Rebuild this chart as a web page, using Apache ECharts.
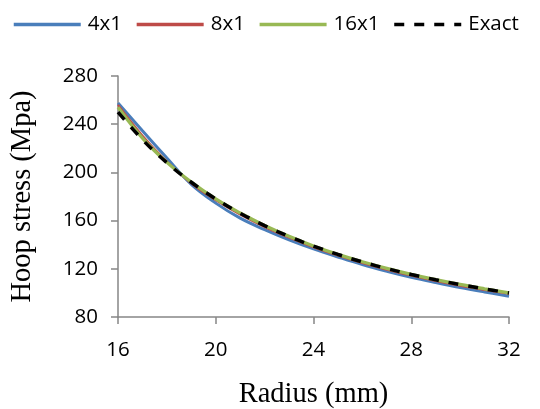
<!DOCTYPE html>
<html>
<head>
<meta charset="utf-8">
<script src="https://cdn.jsdelivr.net/npm/echarts@6/dist/echarts.min.js"></script>
<style>
  html, body { margin: 0; padding: 0; background: #fff; }
  #chart { width: 540px; height: 409px; }
</style>
</head>
<body>
<div id="chart"></div>
<script>
// Hoop stress along the radius of a thick-walled cylinder:
// finite-element meshes of increasing density against the exact solution.
const radius = [16, 17, 18, 19, 20, 21, 22, 23, 24, 25, 26, 27, 28, 29, 30, 31, 32];

const mesh4x1 = [257.5, 234.5, 212, 190, 174.5, 162, 152.5, 144, 136.5, 129.8, 123.5, 118, 113, 108.6, 104.5, 100.8, 97.3];
const mesh8x1 = [256, 230.5, 209, 191, 177, 165, 154.8, 146, 138, 131, 124.8, 119.3, 114.5, 110, 106, 102.5, 99.3];
const mesh16x1 = [254, 228.5, 208.3, 192, 178, 166.3, 156, 147, 139, 132, 125.8, 120.3, 115.4, 111, 107, 103.4, 100];
const exact = [250, 227.2, 208, 191.8, 178, 166.1, 155.8, 146.8, 138.9, 131.9, 125.7, 120.2, 115.3, 110.9, 106.9, 103.3, 100];

const seriesNames = ['4x1', '8x1', '16x1', 'Exact'];
const xTicks = { min: 16, max: 32, step: 4 };
const yTicks = { min: 80, max: 280, step: 40 };

const pairs = (ys) => radius.map((r, i) => [r, ys[i]]);

const axisGray = '#868686';
const tickFont = { fontFamily: '"Open Sans", sans-serif', fontSize: 20.5, color: '#000' };
const titleFont = { fontFamily: '"Liberation Serif", "Times New Roman", serif', fontSize: 28.5, color: '#000' };

const chart = echarts.init(document.getElementById('chart'), null, { renderer: 'canvas' });

chart.setOption({
  animation: false,
  backgroundColor: '#fff',
  legend: {
    left: 7,
    top: 9,
    itemWidth: 67,
    itemHeight: 14,
    itemGap: 13,
    itemStyle: { opacity: 0 },
    lineStyle: { width: 3.5 },
    textStyle: { fontFamily: '"Open Sans", sans-serif', fontSize: 20.5, color: '#000', padding: [0, 0, 0, 2] },
    data: seriesNames
  },
  grid: { left: 118, right: 31, top: 76, bottom: 92, containLabel: false, outerBoundsMode: 'none' },
  xAxis: {
    type: 'value',
    min: xTicks.min,
    max: xTicks.max,
    interval: xTicks.step,
    name: 'Radius (mm)',
    nameLocation: 'middle',
    nameGap: 63,
    nameTextStyle: titleFont,
    axisLine: { lineStyle: { color: axisGray, width: 1.5 } },
    axisTick: { show: true, length: 7, lineStyle: { color: axisGray, width: 1.5 } },
    axisLabel: Object.assign({ margin: 23 }, tickFont),
    splitLine: { show: false }
  },
  yAxis: {
    type: 'value',
    min: yTicks.min,
    max: yTicks.max,
    interval: yTicks.step,
    name: 'Hoop stress (Mpa)',
    nameLocation: 'middle',
    nameGap: 81,
    nameTextStyle: titleFont,
    axisLine: { show: true, lineStyle: { color: axisGray, width: 1.5 } },
    axisTick: { show: true, length: 7, lineStyle: { color: axisGray, width: 1.5 } },
    axisLabel: Object.assign({ margin: 20 }, tickFont),
    splitLine: { show: false }
  },
  series: [
    {
      name: seriesNames[0], type: 'line', smooth: 0.4, symbol: 'none',
      data: pairs(mesh4x1),
      lineStyle: { color: '#4A7EBB', width: 3 },
      itemStyle: { color: '#4A7EBB' }
    },
    {
      name: seriesNames[1], type: 'line', smooth: 0.4, symbol: 'none',
      data: pairs(mesh8x1),
      lineStyle: { color: '#BE4B48', width: 2.25 },
      itemStyle: { color: '#BE4B48' }
    },
    {
      name: seriesNames[2], type: 'line', smooth: 0.4, symbol: 'none',
      data: pairs(mesh16x1),
      lineStyle: { color: '#98B954', width: 3.25 },
      itemStyle: { color: '#98B954' }
    },
    {
      name: seriesNames[3], type: 'line', smooth: 0.4, symbol: 'none',
      data: pairs(exact),
      lineStyle: { color: '#000', width: 3.5, type: [10, 10] },
      itemStyle: { color: '#000' }
    }
  ]
});
</script>
</body>
</html>
